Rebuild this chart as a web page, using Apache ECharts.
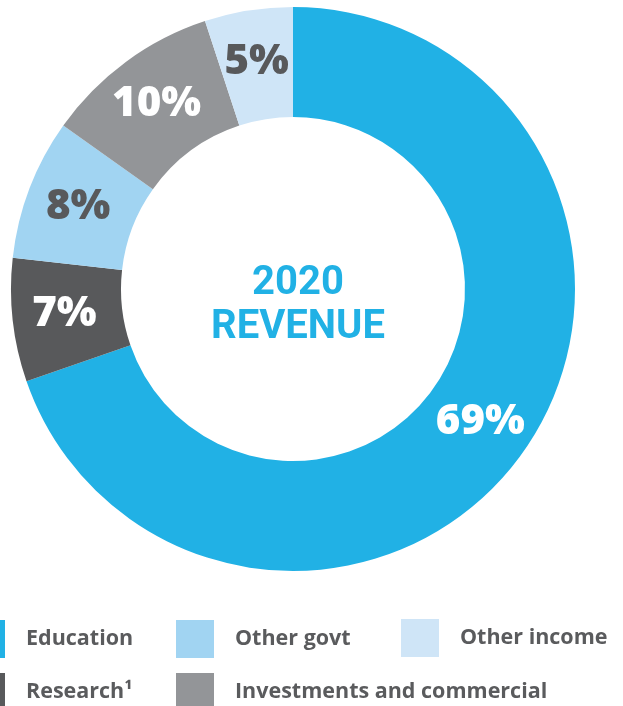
<!DOCTYPE html>
<html>
<head>
<meta charset="utf-8">
<script src="https://cdn.jsdelivr.net/npm/echarts@6/dist/echarts.min.js"></script>
<style>
  html, body { margin: 0; padding: 0; background: #ffffff; }
  #chart { width: 623px; height: 706px; }
</style>
</head>
<body>
<div id="chart"></div>
<script>
// Revenue sources, percent of total
const categories = ['Education', 'Research¹', 'Other govt', 'Investments and commercial', 'Other income'];
const shares = [69, 7, 8, 10, 5];
const colors = ['#21B1E5', '#58595B', '#A1D4F2', '#939598', '#CFE5F7'];
const labelColors = ['#ffffff', '#ffffff', '#58595B', '#ffffff', '#58595B'];

// Legend layout: [name, left, top]
const legendSlots = [
  ['Education', -33, 620],
  ['Other govt', 176, 620],
  ['Other income', 401, 619],
  ['Research¹', -33, 673],
  ['Investments and commercial', 176, 673]
];

const chart = echarts.init(document.getElementById('chart'), null, { renderer: 'canvas' });

const pieData = categories.map((name, i) => ({
  name: name,
  value: shares[i],
  itemStyle: { color: colors[i] },
  label: { color: labelColors[i] }
}));

const legends = legendSlots.map(([name, left, top]) => ({
  data: [name],
  left: left,
  top: top,
  padding: 0,
  icon: 'rect',
  itemWidth: 38,
  itemHeight: 38,
  selectedMode: false,
  textStyle: {
    fontFamily: 'Open Sans',
    fontWeight: 'bold',
    fontSize: 21.5,
    color: '#5A5B5D',
    padding: [0, 0, 0, 16]
  }
}));

chart.setOption({
  animation: false,
  backgroundColor: '#ffffff',
  title: {
    text: '2020\nREVENUE',
    left: 293,
    top: 257,
    textAlign: 'center',
    textStyle: {
      fontFamily: 'Roboto',
      fontWeight: 'bold',
      fontSize: 40,
      lineHeight: 44,
      color: '#21B1E5'
    }
  },
  legend: legends,
  series: [{
    type: 'pie',
    center: [293, 289],
    radius: [172, 282],
    startAngle: 90,
    clockwise: true,
    avoidLabelOverlap: false,
    emphasis: { disabled: true },
    label: {
      show: true,
      position: 'inside',
      formatter: '{c}%',
      fontFamily: 'Open Sans',
      fontWeight: 800,
      fontSize: 42
    },
    labelLine: { show: false },
    data: pieData
  }]
});
</script>
</body>
</html>
